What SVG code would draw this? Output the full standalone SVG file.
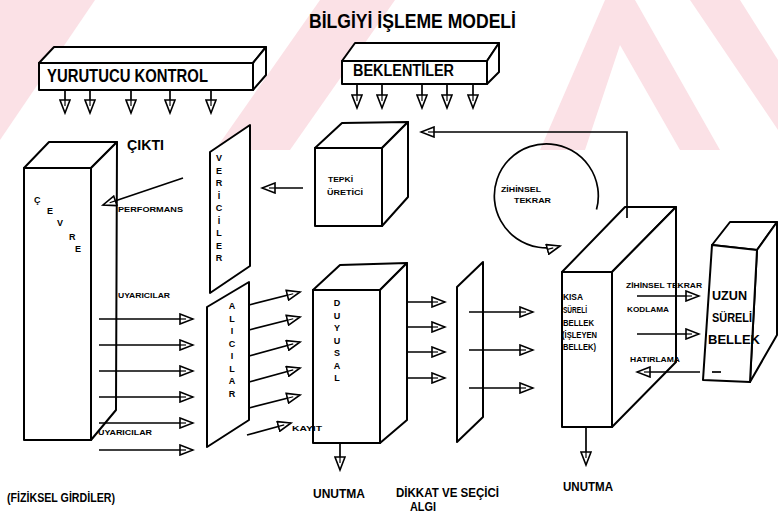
<svg xmlns="http://www.w3.org/2000/svg" width="778" height="513" viewBox="0 0 778 513">
<defs>
<style>
.bx{fill:#fff;stroke:#000;stroke-width:2;stroke-linejoin:round}
.ln{fill:none;stroke:#000;stroke-width:1.7}
.ar{fill:none;stroke:#000;stroke-width:1.7;marker-end:url(#ah)}
.t{font-family:"Liberation Sans",Arial,sans-serif;font-weight:bold;fill:#000}
.wm{fill:#fbe1e6}
</style>
<marker id="ah" markerUnits="userSpaceOnUse" markerWidth="16" markerHeight="12" refX="14" refY="6" orient="auto" viewBox="0 0 16 12">
<path d="M1,1 L14,6 L1,11 Z" fill="#fff" stroke="#000" stroke-width="1.6"/>
<path d="M1,6 L7,6" stroke="#000" stroke-width="1.2"/>
</marker>
</defs>
<rect width="778" height="513" fill="#fff"/>
<g id="watermark">
<polygon class="wm" points="0,0 95,0 0,140"/>
<polygon class="wm" points="215,150 290,150 395,0 320,0"/>
<polygon class="wm" points="540,150 605,0 635,0 720,150 680,150 620,45 585,150"/>
<polygon class="wm" points="690,0 740,0 778,60 778,130"/>
</g>
<text class="t" x="309" y="28" font-size="20" textLength="207" lengthAdjust="spacingAndGlyphs">BİLGİYİ İŞLEME MODELİ</text>

<g id="yurutucu">
<polygon class="bx" points="39,63 54,47 266,47 253,63"/>
<polygon class="bx" points="253,63 266,47 266,75 253,90"/>
<rect class="bx" x="39" y="63" width="214" height="27"/>
<text class="t" x="47" y="82" font-size="18" textLength="161" lengthAdjust="spacingAndGlyphs">YURUTUCU KONTROL</text>
</g>
<g id="beklentiler">
<polygon class="bx" points="342,61 355,43 499,43 487,61"/>
<polygon class="bx" points="487,61 499,43 499,72 487,84"/>
<rect class="bx" x="342" y="61" width="145" height="23"/>
<text class="t" x="353" y="76" font-size="16" textLength="101" lengthAdjust="spacingAndGlyphs">BEKLENTİLER</text>
</g>
<g id="cevre">
<polygon class="bx" points="24,168 49,142 117,142 91,168"/>
<polygon class="bx" points="91,168 117,142 116,410 91,440"/>
<rect class="bx" x="24" y="168" width="67" height="272"/>
<text class="t" font-size="9"><tspan x="34" y="203">Ç</tspan><tspan x="47" y="214">E</tspan><tspan x="57" y="226">V</tspan><tspan x="69" y="240">R</tspan><tspan x="75" y="252">E</tspan></text>
</g>
<text class="t" x="127" y="150" font-size="15" textLength="37" lengthAdjust="spacingAndGlyphs">ÇIKTI</text>
<g id="vericiler">
<polygon class="bx" points="210,152 250,125 250,266 210,293"/>
<text class="t" font-size="9" text-anchor="middle"><tspan x="219" y="161">V</tspan><tspan x="219" y="173.5">E</tspan><tspan x="219" y="186">R</tspan><tspan x="219" y="198.5">İ</tspan><tspan x="219" y="211">C</tspan><tspan x="219" y="223.5">İ</tspan><tspan x="219" y="236">L</tspan><tspan x="219" y="248.5">E</tspan><tspan x="219" y="261">R</tspan></text>
</g>
<g id="alicilar">
<polygon class="bx" points="207,307 249,282 249,420 207,447"/>
<text class="t" font-size="9" text-anchor="middle"><tspan x="232" y="309">A</tspan><tspan x="232" y="321.5">L</tspan><tspan x="232" y="334">I</tspan><tspan x="232" y="346.5">C</tspan><tspan x="232" y="359">I</tspan><tspan x="232" y="371.5">L</tspan><tspan x="232" y="384">A</tspan><tspan x="232" y="396.5">R</tspan></text>
</g>
<g id="tepki">
<polygon class="bx" points="315,148 342,123 408,122 382,148"/>
<polygon class="bx" points="382,148 408,122 408,197 382,226"/>
<rect class="bx" x="315" y="148" width="67" height="78"/>
<text class="t" x="328" y="182" font-size="7.5" textLength="25" lengthAdjust="spacingAndGlyphs">TEPKİ</text>
<text class="t" x="327" y="195" font-size="7.5" textLength="36" lengthAdjust="spacingAndGlyphs">ÜRETİCİ</text>
</g>
<g id="duysal">
<polygon class="bx" points="313,290 340,265 407,263 380,290"/>
<polygon class="bx" points="380,290 407,263 407,420 380,443"/>
<rect class="bx" x="313" y="290" width="67" height="153"/>
<text class="t" font-size="9" text-anchor="middle"><tspan x="337" y="306">D</tspan><tspan x="337" y="318.5">U</tspan><tspan x="337" y="331">Y</tspan><tspan x="337" y="343.5">U</tspan><tspan x="337" y="356">S</tspan><tspan x="337" y="368.5">A</tspan><tspan x="337" y="381">L</tspan></text>
</g>
<g id="dikkat">
<polygon class="bx" points="457,287 483,262 483,417 457,442"/>
</g>
<g id="kisa">
<polygon class="bx" points="562,272 625,207 676,207 612,272"/>
<polygon class="bx" points="612,272 676,207 676,362 612,427"/>
<rect class="bx" x="562" y="272" width="50" height="155"/>
<text class="t" font-size="8.5"><tspan x="563" y="300" textLength="20" lengthAdjust="spacingAndGlyphs">KISA</tspan><tspan x="563" y="313" textLength="24" lengthAdjust="spacingAndGlyphs">SÜRELİ</tspan><tspan x="563" y="326" textLength="31" lengthAdjust="spacingAndGlyphs">BELLEK</tspan><tspan x="562" y="338" textLength="35" lengthAdjust="spacingAndGlyphs">(İŞLEYEN</tspan><tspan x="563" y="350" textLength="33" lengthAdjust="spacingAndGlyphs">BELLEK)</tspan></text>
</g>
<g id="uzun">
<polygon class="bx" points="712,245 730,222 777,222 757,250"/>
<polygon class="bx" points="757,250 777,222 777,335 750,382"/>
<polygon class="bx" points="712,245 757,250 750,382 703,380"/>
<text class="t" x="712" y="300" font-size="12" textLength="35" lengthAdjust="spacingAndGlyphs">UZUN</text>
<text class="t" x="712" y="322" font-size="12" textLength="40" lengthAdjust="spacingAndGlyphs">SÜRELİ</text>
<text class="t" x="708" y="344" font-size="12" textLength="52" lengthAdjust="spacingAndGlyphs">BELLEK</text>
<path class="ln" d="M712,372 H721"/>
</g>

<g id="connectors">
<path class="ar" d="M65,90 V113"/>
<path class="ar" d="M90,90 V113"/>
<path class="ar" d="M131,90 V113"/>
<path class="ar" d="M170,90 V113"/>
<path class="ar" d="M211,90 V113"/>
<path class="ar" d="M357,84 V108"/>
<path class="ar" d="M382,84 V108"/>
<path class="ar" d="M422,84 V108"/>
<path class="ar" d="M447,84 V108"/>
<path class="ar" d="M473,84 V108"/>
<path class="ar" d="M183,178 L103,205"/>
<path class="ar" d="M303,188 H262"/>
<path class="ar" d="M99,319 H193"/>
<path class="ar" d="M99,345 H193"/>
<path class="ar" d="M99,371 H193"/>
<path class="ar" d="M99,397 H193"/>
<path class="ar" d="M99,423 H193"/>
<path class="ar" d="M99,450 H193"/>
<path class="ar" d="M249,305 L300,292"/>
<path class="ar" d="M249,330 L300,317"/>
<path class="ar" d="M249,356 L300,342"/>
<path class="ar" d="M249,382 L300,368"/>
<path class="ar" d="M249,408 L300,395"/>
<path class="ar" d="M247,435 L291,423"/>
<path class="ar" d="M408,302 H445"/>
<path class="ar" d="M408,327 H445"/>
<path class="ar" d="M408,352 H445"/>
<path class="ar" d="M408,378 H445"/>
<path class="ar" d="M469,312 H533"/>
<path class="ar" d="M469,350 H533"/>
<path class="ar" d="M469,388 H533"/>
<path class="ar" d="M340,443 V470"/>
<path class="ar" d="M586,427 V465"/>
<path class="ar" d="M627,218 V132 H421"/>
<path class="ar" d="M596.5,209.5 A52,52 0 1 0 560,246"/>
<path class="ar" d="M637,296 H699"/>
<path class="ar" d="M637,334 H699"/>
<path class="ar" d="M700,372 H637"/>
</g>

<text class="t" x="118" y="212" font-size="8" textLength="65" lengthAdjust="spacingAndGlyphs">PERFORMANS</text>
<text class="t" x="118" y="298" font-size="8" textLength="52" lengthAdjust="spacingAndGlyphs">UYARICILAR</text>
<text class="t" x="98" y="435" font-size="8" textLength="54" lengthAdjust="spacingAndGlyphs">UYARICILAR</text>
<text class="t" x="292" y="431" font-size="7.5" textLength="30" lengthAdjust="spacingAndGlyphs">KAYIT</text>
<text class="t" x="501" y="192" font-size="7.5" textLength="40" lengthAdjust="spacingAndGlyphs">ZİHİNSEL</text>
<text class="t" x="514" y="203" font-size="7.5" textLength="37" lengthAdjust="spacingAndGlyphs">TEKRAR</text>
<text class="t" x="626" y="288" font-size="8" textLength="76" lengthAdjust="spacingAndGlyphs">ZİHİNSEL TEKRAR</text>
<text class="t" x="627" y="312" font-size="7.5" textLength="42" lengthAdjust="spacingAndGlyphs">KODLAMA</text>
<text class="t" x="630" y="362" font-size="8" textLength="50" lengthAdjust="spacingAndGlyphs">HATIRLAMA</text>
<text class="t" x="7" y="502" font-size="12" textLength="108" lengthAdjust="spacingAndGlyphs">(FİZİKSEL GİRDİLER)</text>
<text class="t" x="313" y="498" font-size="12" textLength="52" lengthAdjust="spacingAndGlyphs">UNUTMA</text>
<text class="t" x="396" y="497" font-size="12" textLength="103" lengthAdjust="spacingAndGlyphs">DİKKAT VE SEÇİCİ</text>
<text class="t" x="410" y="511" font-size="12" textLength="26" lengthAdjust="spacingAndGlyphs">ALGI</text>
<text class="t" x="563" y="491" font-size="12" textLength="50" lengthAdjust="spacingAndGlyphs">UNUTMA</text>
</svg>
